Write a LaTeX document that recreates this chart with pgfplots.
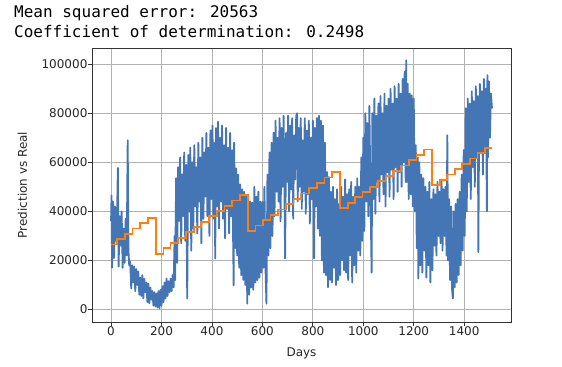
\documentclass[border=0pt]{standalone}
\usepackage{fontspec}
\setmainfont{DejaVu Sans}
\newfontfamily\monofont{DejaVu Sans Mono}
\usepackage{pgfplots}
\pgfplotsset{compat=1.18}
\definecolor{mplblue}{RGB}{68,117,180}
\definecolor{mplorange}{RGB}{255,127,14}
\begin{document}
\begin{tikzpicture}
\useasboundingbox (0,0) rectangle (562bp,367bp);
\node[anchor=base west, inner sep=0pt, font=\monofont\fontsize{16bp}{20bp}\selectfont] at (14bp,349.7bp) {Mean squared error: 20563};
\node[anchor=base west, inner sep=0pt, font=\monofont\fontsize{16bp}{20bp}\selectfont] at (14bp,329.7bp) {Coefficient of determination: 0.2498};
\begin{axis}[
 at={(92bp,45bp)}, anchor=south west,
 width=419bp, height=274bp, scale only axis,
 xmin=-75.5, xmax=1585.5, ymin=-5100, ymax=106600,
 xtick={0,200,...,1400}, ytick={0,20000,...,100000},
 tick pos=left,
 scaled y ticks=false, scaled x ticks=false,
 grid=major, grid style={color=black!30, line width=0.8bp},
 tick align=outside, major tick length=4.4bp,
 tick style={color=black!80, line width=0.8bp},
 axis line style={color=black!80, line width=0.8bp},
 /pgf/number format/assume math mode=true,
 /pgf/number format/fixed,
 /pgf/number format/precision=0,
 /pgf/number format/1000 sep={},
 ticklabel style={font=\fontsize{12bp}{14bp}\selectfont, color=black!85},
 xticklabel style={anchor=north, inner sep=0pt},
 yticklabel style={anchor=east, inner sep=0pt},
 xlabel={Days}, ylabel={Prediction vs Real},
 label style={font=\fontsize{12bp}{14bp}\selectfont, color=black!85, inner sep=0pt},
 xlabel style={at={(axis description cs:0.5,-0.1277)}, anchor=base},
 ylabel style={at={(axis description cs:-0.1659,0.5)}, anchor=center},
]
\addplot[mplblue, line width=1.8bp, line join=round] table {
x y
0 36000
2 46500
4 17000
8 44000
12 21000
16 42000
20 28000
24 39000
27 57700
30 17500
34 38000
38 26000
42 40000
46 17000
50 33000
54 19000
58 37000
62 22000
66 69000
69 24000
72 18000
76 19500
80 8600
84 18000
88 11000
92 17500
96 7500
100 16500
104 10000
108 15500
112 6000
116 13000
120 5500
124 14000
128 4500
132 12500
136 7000
140 11000
144 3000
148 10500
152 2500
156 9000
160 4000
164 7500
168 1600
172 7000
176 1200
180 6500
184 800
188 7500
192 500
196 8000
200 1500
204 9500
208 3000
212 11000
216 4500
220 12600
224 5500
228 11500
232 7000
236 12600
240 7500
244 14000
248 9000
252 30000
254 12000
258 53500
262 19000
266 58000
270 36000
274 62000
278 27000
282 55000
286 38000
290 64000
294 28000
298 59000
302 4500
306 63000
310 40000
314 66000
318 24000
322 60000
326 33000
330 67000
334 42000
338 58000
342 31000
346 68000
350 44000
354 62000
358 27000
362 70000
366 37000
370 64000
374 46000
378 72000
382 38000
386 66000
390 30000
394 73000
398 45000
402 75000
406 37000
410 68000
413 20800
416 74000
420 42000
424 76500
428 33000
432 70000
436 44000
440 75000
444 37000
448 67000
452 29000
456 74000
460 41000
464 66000
468 31000
472 72000
476 38000
480 65000
484 28000
486 9800
488 68000
492 25000
496 57500
500 22000
504 55000
508 17000
512 51000
516 14000
520 49000
524 12000
528 48000
532 10000
536 46000
540 2400
544 45000
548 6000
552 44000
556 9000
560 43600
564 8000
568 50000
572 11000
576 46000
580 12000
584 48000
588 13000
592 44000
596 15000
600 43800
604 17000
608 50000
612 18000
616 2400
620 55000
624 22000
628 64000
632 25000
636 68000
640 30000
644 72000
648 38000
652 77000
656 48000
660 70000
664 44000
668 78000
672 36000
676 74000
680 50000
684 79000
688 43000
690 20800
694 72000
698 52000
702 79000
706 40000
710 75000
714 49000
718 78000
722 37000
726 71000
730 53000
734 79000
738 80000
740 44000
744 74000
748 50000
752 78000
756 41000
760 69000
764 48000
768 78000
772 39000
776 73000
780 47000
784 77000
788 35000
792 70000
796 45000
800 77000
805 20800
808 74000
812 42000
816 78000
820 33000
824 79000
828 30000
832 77000
836 20000
840 75000
844 15000
848 68000
852 14000
856 56000
860 9100
864 54000
868 12000
872 48000
876 11000
880 50000
884 17000
888 45000
892 10000
896 49000
900 12000
904 43000
908 14000
912 50000
916 20000
920 46000
924 16000
928 53000
932 15000
936 47000
940 12000
944 49000
948 22000
952 52000
956 11000
960 46000
964 18000
968 50000
972 15000
976 53500
980 24000
984 50000
988 22000
992 62000
996 28000
1000 70000
1004 32000
1008 80000
1012 44000
1016 76000
1020 38000
1024 83000
1028 50000
1033 15000
1036 80000
1040 45000
1044 86000
1048 39000
1052 79000
1056 52000
1060 84000
1064 44000
1068 87000
1072 55000
1076 80000
1080 47000
1084 88000
1088 42000
1092 83000
1096 56000
1100 86000
1104 46000
1108 90000
1112 57000
1116 84000
1120 45000
1124 91000
1128 58000
1132 86000
1136 48000
1140 92000
1144 56000
1148 88000
1152 50000
1156 94000
1160 60000
1164 97000
1168 52000
1170 101600
1172 52000
1176 92000
1180 45000
1184 88000
1188 47000
1192 87300
1196 42000
1200 86000
1204 40000
1208 67000
1212 25000
1216 62000
1218 12600
1222 60000
1226 18000
1230 55000
1234 15000
1238 53500
1242 24000
1246 50000
1250 13000
1254 48000
1258 18000
1262 52000
1266 11000
1270 45000
1274 16000
1278 49000
1282 26000
1286 47000
1290 22000
1294 52000
1298 30000
1302 48000
1306 27000
1310 53000
1314 24000
1318 49000
1322 30000
1326 50000
1330 22000
1333 71000
1336 20000
1340 45000
1344 12000
1348 42000
1352 8000
1355 4500
1358 40000
1362 9000
1366 43000
1370 11000
1374 45000
1378 14000
1382 48000
1386 18000
1390 55000
1394 24000
1398 65000
1402 30000
1406 82000
1410 40000
1414 86000
1418 52000
1422 84000
1426 45000
1430 89000
1434 58000
1438 85000
1442 50000
1446 91000
1450 62000
1454 87000
1456 23400
1458 56000
1462 92000
1466 64000
1470 89000
1474 55000
1478 94000
1482 66000
1486 90000
1490 40000
1492 95500
1494 62000
1498 93000
1502 70000
1506 88000
1510 82000
};
\addplot[mplorange, line width=1.8bp, const plot] coordinates {
(0,26490)(24,28660)(55,30830)(85,33000)(116,35170)(146,37340)
(177,22770)(208,24940)(236,27110)(267,29280)(297,31450)(328,33620)(358,35790)(389,37960)(420,40130)(450,42300)(481,44470)(511,46640)
(542,32070)(573,34240)(601,36410)(632,38580)(662,40750)(693,42920)(723,45090)(754,47260)(785,49430)(815,51600)(846,53770)(876,55940)
(907,41370)(938,43540)(966,45710)(997,47880)(1027,50050)(1058,52220)(1088,54390)(1119,56560)(1150,58730)(1180,60900)(1211,63070)(1241,65240)
(1272,50670)(1303,52840)(1331,55010)(1362,57180)(1392,59350)(1423,61520)(1453,63690)(1484,65860)(1510,65860)
};
\end{axis}
\end{tikzpicture}
\end{document}
